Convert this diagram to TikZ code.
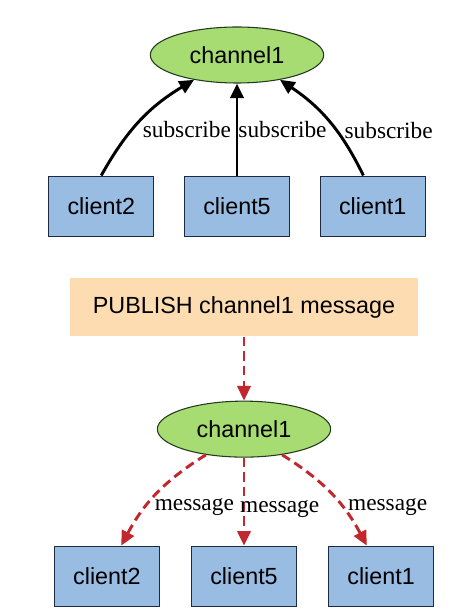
\documentclass[tikz,border=0pt]{standalone}
\usepackage{fontspec}
\setmainfont{Liberation Serif}
\setsansfont{Liberation Sans}
\usepackage{tikz}
\usetikzlibrary{positioning, calc, arrows.meta, shapes.geometric}

\definecolor{boxblue}{HTML}{99BCE3}
\definecolor{boxline}{HTML}{1E2A44}
\definecolor{chgreen}{HTML}{A6DC72}
\definecolor{chline}{HTML}{233A1E}
\definecolor{pubpeach}{HTML}{FCDCB0}
\definecolor{msgred}{HTML}{C1272D}

\begin{document}
\begin{tikzpicture}
    [x=0.75pt, y=-0.75pt,
    chnode/.style={ellipse, draw=chline, thick, fill=chgreen, minimum width=130pt, minimum height=42pt, inner sep=0pt, font=\sffamily\fontsize{17.5}{20}\selectfont},
    clientnode/.style={rectangle, draw=boxline, thick, fill=boxblue, minimum width=79pt, minimum height=45pt, inner sep=0pt, font=\sffamily\fontsize{17.5}{20}\selectfont},
    pubnode/.style={rectangle, fill=pubpeach, minimum width=261pt, minimum height=44pt, inner sep=0pt, font=\sffamily\fontsize{17.5}{20}\selectfont},
    subarrow/.style={line width=2.2pt, -{Triangle[length=11pt, width=10pt]}},
    msgarrow/.style={msgred, line width=2.2pt, dash pattern=on 7pt off 4pt, -{Triangle[length=11pt, width=10pt]}},
    edgelabel/.style={anchor=west, inner sep=1pt, text=black, font=\fontsize{17.5}{20}\selectfont},]

    \useasboundingbox (0,0) rectangle (472,616);

    %Nodes
    \node[chnode](T) at (237,55) {channel1};
    \node[clientnode](T5)[below=69pt of T] {client5};
    \node[clientnode](T2)[left=22pt of T5] {client2};
    \node[clientnode](T1)[right=22pt of T5] {client1};

    \node[pubnode](P) at (244,307) {PUBLISH channel1 message};
    \node[chnode](B)[below=48pt of P] {channel1};
    \node[clientnode](B5)[below=66pt of B] {client5};
    \node[clientnode](B2)[left=23pt of B5] {client2};
    \node[clientnode](B1)[right=23pt of B5] {client1};

    %Subscribe
    \draw[subarrow] (T2.north) to[bend left=15] node[edgelabel, pos=0.4, xshift=6pt] {subscribe} (T.210);
    \draw[subarrow] (T5.north) -- node[edgelabel, pos=0.5, inner sep=0pt] {subscribe} (T.south);
    \draw[subarrow] (T1.107) to[bend right=15] node[edgelabel, pos=0.4, xshift=4pt] {subscribe} (T.330);

    %Publish
    \draw[msgarrow] (P.south) -- (B.north);
    \draw[msgarrow] (B.214) to[bend right=15] node[edgelabel, pos=0.65, xshift=5pt] {message} (B2.65);
    \draw[msgarrow] (B.south) -- node[edgelabel, pos=0.58, xshift=-5pt] {message} (B5.north);
    \draw[msgarrow] (B.326) to[bend left=15] node[edgelabel, pos=0.65, xshift=2pt] {message} (B1.115);
\end{tikzpicture}
\end{document}
